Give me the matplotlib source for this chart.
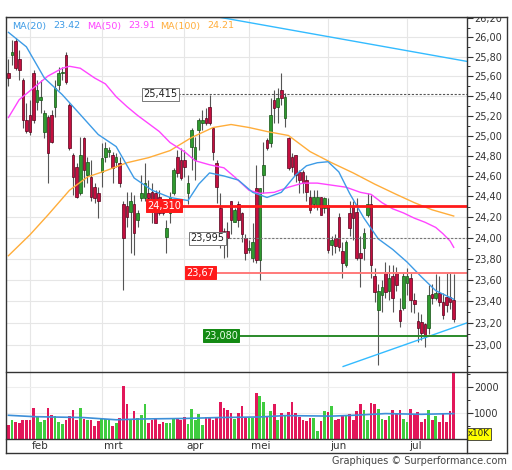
import numpy as np
import pandas as pd
import matplotlib
matplotlib.use("Agg")
import matplotlib.pyplot as plt
from matplotlib.lines import Line2D
from matplotlib.patches import Rectangle
from matplotlib.ticker import FixedLocator, FuncFormatter, NullFormatter

# trading days shown (Euronext, holidays removed)
dates = pd.bdate_range("2023-01-24", "2023-07-20")
dates = dates[~dates.isin(pd.to_datetime(["2023-04-07", "2023-04-10", "2023-05-01"]))]
month_names = {2: "feb", 3: "mrt", 4: "apr", 5: "mei", 6: "jun", 7: "jul"}

open_ = [25.63, 25.82, 25.96, 25.77, 25.56, 25.16, 25.21, 25.63, 25.34, 25.36,
         25.04, 25.19, 25.21, 25.29, 25.51, 25.63, 25.82, 25.31, 24.81, 24.69,
         24.43, 24.98, 24.61, 24.59, 24.49, 24.43, 24.64, 24.79, 24.84, 24.81,
         24.74, 24.73, 24.33, 24.31, 24.25, 24.33, 24.17, 24.38, 24.38, 24.43,
         24.44, 24.43, 24.39, 24.36, 24.01, 24.24, 24.43, 24.79, 24.76, 24.76,
         24.43, 24.89, 24.76, 25.06, 25.13, 25.18, 25.29, 25.08, 24.73, 24.29,
         24.07, 24.07, 24.36, 24.15, 24.33, 24.24, 24.00, 23.88, 23.81, 24.48,
         23.79, 24.61, 24.96, 24.93, 25.36, 25.29, 25.46, 25.18, 24.98, 24.79,
         24.81, 24.64, 24.64, 24.56, 24.39, 24.33, 24.31, 24.39, 24.29, 24.32,
         23.93, 24.00, 24.20, 23.87, 23.74, 24.24, 24.31, 24.25, 23.86, 23.90,
         24.22, 24.33, 23.64, 23.32, 23.46, 23.67, 23.50, 23.64, 23.67, 23.32,
         23.34, 23.57, 23.62, 23.41, 23.22, 23.21, 23.19, 23.15, 23.47, 23.43,
         23.48, 23.39, 23.44, 23.44, 23.41]
high = [25.77, 25.97, 25.99, 25.87, 25.58, 25.33, 25.36, 25.66, 25.56, 25.56,
        25.26, 25.21, 25.26, 25.56, 25.69, 25.69, 25.85, 25.33, 24.83, 24.73,
        24.99, 24.99, 24.79, 24.76, 24.53, 24.49, 24.93, 24.94, 24.89, 24.84,
        24.83, 24.79, 24.36, 24.44, 24.44, 24.41, 24.27, 24.61, 24.73, 24.56,
        24.53, 24.46, 24.46, 24.36, 24.17, 24.44, 24.68, 24.86, 24.88, 24.86,
        24.61, 25.08, 24.99, 25.18, 25.26, 25.28, 25.41, 25.09, 24.76, 24.43,
        24.09, 24.15, 24.36, 24.29, 24.36, 24.25, 24.04, 23.98, 24.14, 24.71,
        24.48, 24.94, 24.98, 25.38, 25.46, 25.48, 25.63, 25.43, 24.99, 24.83,
        24.81, 24.66, 24.66, 24.61, 24.46, 24.46, 24.46, 24.39, 24.39, 24.38,
        24.02, 24.04, 24.24, 23.96, 23.98, 24.36, 24.36, 24.38, 24.02, 24.09,
        24.43, 24.41, 23.71, 23.56, 23.60, 23.77, 23.74, 23.74, 23.72, 23.43,
        23.67, 23.71, 23.67, 23.48, 23.30, 23.28, 23.20, 23.55, 23.56, 23.66,
        23.64, 23.48, 23.67, 23.67, 23.66]
low = [25.50, 25.71, 25.66, 25.56, 25.08, 25.03, 25.01, 25.13, 25.26, 25.23,
       24.98, 24.53, 24.93, 25.19, 25.46, 25.56, 25.52, 24.86, 24.41, 24.38,
       24.41, 24.49, 24.53, 24.36, 24.34, 24.19, 24.49, 24.74, 24.79, 24.53,
       24.69, 24.49, 23.51, 24.10, 23.86, 23.84, 24.10, 24.36, 24.36, 24.33,
       24.14, 24.14, 24.22, 24.22, 23.86, 24.14, 24.41, 24.59, 24.56, 24.59,
       24.33, 24.66, 24.56, 24.86, 25.06, 25.11, 25.11, 24.76, 24.34, 23.90,
       23.81, 23.82, 24.04, 24.15, 24.10, 23.96, 23.79, 23.86, 23.77, 23.76,
       23.60, 24.43, 24.86, 24.89, 25.13, 25.13, 25.31, 25.09, 24.66, 24.64,
       24.54, 24.43, 24.43, 24.36, 24.24, 24.29, 24.27, 24.22, 24.24, 23.86,
       23.84, 23.86, 23.87, 23.62, 23.72, 24.02, 23.98, 23.79, 23.53, 23.79,
       24.20, 23.62, 23.39, 22.81, 23.30, 23.43, 23.41, 23.30, 23.50, 23.16,
       23.32, 23.46, 23.30, 23.29, 23.02, 23.04, 22.98, 23.10, 23.38, 23.41,
       23.36, 23.24, 23.30, 23.33, 23.21]
close = [25.58, 25.85, 25.68, 25.66, 25.16, 25.05, 25.04, 25.16, 25.46, 25.39,
         25.23, 24.83, 24.94, 25.48, 25.63, 25.64, 25.54, 24.88, 24.59, 24.39,
         24.81, 24.66, 24.74, 24.39, 24.38, 24.36, 24.78, 24.88, 24.85, 24.68,
         24.79, 24.53, 24.00, 24.20, 24.36, 24.05, 24.24, 24.43, 24.53, 24.38,
         24.36, 24.14, 24.24, 24.24, 24.09, 24.39, 24.66, 24.63, 24.58, 24.69,
         24.53, 25.06, 24.89, 25.16, 25.16, 25.13, 25.13, 24.84, 24.49, 24.04,
         23.98, 24.00, 24.17, 24.27, 24.17, 24.04, 23.86, 23.90, 23.96, 23.79,
         24.48, 24.71, 24.88, 25.21, 25.28, 25.38, 25.38, 25.39, 24.68, 24.69,
         24.61, 24.56, 24.53, 24.44, 24.27, 24.39, 24.39, 24.22, 24.38, 23.88,
         23.98, 23.92, 23.91, 23.76, 23.96, 24.09, 24.19, 23.81, 23.81, 24.05,
         24.33, 23.74, 23.49, 23.50, 23.53, 23.49, 23.62, 23.43, 23.55, 23.22,
         23.64, 23.64, 23.41, 23.38, 23.15, 23.11, 23.07, 23.46, 23.43, 23.48,
         23.39, 23.27, 23.37, 23.39, 23.24]
volume = [532, 720, 646, 608, 750, 720, 750, 1205, 850, 646,
          750, 1190, 938, 874, 646, 569, 750, 874, 1103, 750,
          1205, 773, 720, 750, 506, 684, 824, 786, 773, 506,
          620, 798, 2053, 1330, 773, 1077, 824, 938, 1330, 620,
          750, 824, 595, 646, 620, 620, 824, 824, 720, 850,
          569, 1140, 720, 976, 532, 850, 824, 750, 850, 1432,
          1205, 1103, 1013, 786, 1013, 1254, 824, 824, 824, 1760,
          1646, 1432, 874, 1077, 1357, 750, 1013, 874, 1038, 1406,
          1013, 850, 750, 697, 824, 824, 317, 697, 1077, 1038,
          1254, 720, 786, 874, 874, 950, 720, 1077, 1330, 1127,
          750, 1394, 1357, 1165, 786, 750, 874, 1127, 1000, 1127,
          786, 659, 1165, 950, 1038, 659, 786, 1127, 720, 874,
          659, 950, 659, 1077, 2560]

# moving averages read at sampled bars
ma20_idx = [0, 5, 10, 15, 20, 25, 30, 35, 40, 45, 50, 53, 56, 60, 64, 68, 72, 76,
            80, 83, 86, 89, 92, 95, 99, 103, 107, 111, 115, 119, 124]
ma20_val = [26.05, 25.90, 25.58, 25.41, 25.21, 25.01, 24.89, 24.58, 24.46, 24.39,
            24.36, 24.52, 24.63, 24.60, 24.56, 24.44, 24.39, 24.44, 24.61, 24.70,
            24.73, 24.74, 24.64, 24.43, 24.19, 23.99, 23.89, 23.77, 23.63, 23.50, 23.42]
ma50_idx = [0, 3, 7, 11, 15, 17, 20, 24, 27, 30, 33, 36, 39, 42, 45, 49, 52, 56, 60,
            63, 67, 70, 74, 78, 82, 86, 90, 94, 98, 101, 104, 107, 110, 113, 116,
            119, 121, 123, 124]
ma50_val = [25.18, 25.36, 25.48, 25.60, 25.68, 25.70, 25.68, 25.58, 25.52, 25.39,
            25.29, 25.20, 25.12, 25.04, 24.93, 24.84, 24.75, 24.71, 24.68, 24.59,
            24.46, 24.43, 24.44, 24.49, 24.53, 24.53, 24.51, 24.49, 24.44, 24.42,
            24.34, 24.28, 24.24, 24.19, 24.15, 24.10, 24.04, 23.97, 23.91]
ma100_idx = [0, 6, 11, 17, 22, 27, 33, 39, 45, 51, 57, 62, 67, 72, 78, 84, 90, 96,
             102, 108, 113, 118, 124]
ma100_val = [23.83, 24.03, 24.22, 24.46, 24.59, 24.65, 24.73, 24.78, 24.85, 24.98,
             25.08, 25.11, 25.08, 25.04, 25.00, 24.84, 24.73, 24.63, 24.52, 24.42,
             24.34, 24.27, 24.21]
vma_idx = [0, 7, 21, 30, 37, 49, 58, 70, 77, 90, 96, 105, 115, 124]
vma_val = [912, 860, 824, 740, 770, 790, 824, 848, 900, 880, 912, 977, 950, 977]

trend_hi_idx, trend_hi_val = [58.4, 127.7], [26.21, 25.75]
trend_lo_idx, trend_lo_val = [93.2, 127.7], [22.80, 23.20]

W, H = 512, 470


def fr(x0, y0, x1, y1):
    return [x0 / W, 1 - y1 / H, (x1 - x0) / W, (y1 - y0) / H]


def fmt(v):
    return ("%.2f" % v).replace(".", ",")


fig = plt.figure(figsize=(W / 100, H / 100), dpi=100)
ax = fig.add_axes(fr(6, 17, 467, 372))
axv = fig.add_axes(fr(6, 372, 467, 439), sharex=ax)

x = np.arange(len(dates))
o, h, l, c = map(np.array, (open_, high, low, close))
up = c >= o
month_start = [i for i in range(1, len(dates)) if dates[i].month != dates[i - 1].month]

# ---- price panel
ax.set_yscale("log")
ax.set_ylim(22.75, 26.21)
ax.set_xlim(-0.68, 127.7)
for a in (ax, axv):
    for s in a.spines.values():
        s.set_visible(False)
    for m in month_start:
        a.axvline(m, color="#e6e6e6", lw=0.8, zorder=0)
    a.tick_params(axis="x", bottom=False, labelbottom=False)

major = np.round(np.arange(23.0, 26.21, 0.2), 2)
minor = np.round(np.arange(22.8, 26.25, 0.1), 2)
ax.yaxis.set_major_locator(FixedLocator(major))
ax.yaxis.set_minor_locator(FixedLocator(minor))
ax.yaxis.set_major_formatter(FuncFormatter(lambda v, p: fmt(v)))
ax.yaxis.set_minor_formatter(NullFormatter())
ax.yaxis.tick_right()
ax.tick_params(axis="y", which="major", length=4, width=0.8, color="#333",
               labelsize=7, labelcolor="#333", pad=1)
ax.tick_params(axis="y", which="minor", length=2, width=0.7, color="#333")
for v in major:
    ax.axhline(v, color="#e6e6e6", lw=0.8, zorder=0)

ax.vlines(x, l, h, color="#555555", lw=0.8, zorder=3)
lo_b = np.minimum(o, c)
ax.bar(x, np.maximum(np.abs(c - o), 0.012), bottom=lo_b, width=0.72,
       color=np.where(up, "#2f9a2f", "#c40f3f"),
       edgecolor=np.where(up, "#145214", "#55001a"), linewidth=0.5, zorder=4)

ax.plot(ma100_idx, ma100_val, color="#ffad3a", lw=1.0, zorder=5)
ax.plot(ma50_idx, ma50_val, color="#ff44ff", lw=1.0, zorder=5)
ax.plot(ma20_idx, ma20_val, color="#3d9be6", lw=1.0, zorder=5)
ax.plot(trend_hi_idx, trend_hi_val, color="#33bbff", lw=1.0, zorder=5)
ax.plot(trend_lo_idx, trend_lo_val, color="#33bbff", lw=1.0, zorder=5)

# horizontal levels with their labels
xr = 127.7
ax.plot([47.2, xr], [25.415, 25.415], color="#555", lw=0.8, ls=(0, (2, 1.5)), zorder=5)
ax.text(37.5, 25.415, "25,415", fontsize=7, color="#222", va="center", ha="left", zorder=7,
        bbox=dict(boxstyle="square,pad=0.15", fc="white", ec="#777", lw=0.7))
ax.plot([38.6, xr], [24.31, 24.31], color="#ff1a1a", lw=2.0, zorder=6)
ax.text(38.6, 24.31, "24,310", fontsize=7, color="white", va="center", ha="left", zorder=7,
        bbox=dict(boxstyle="square,pad=0.15", fc="#ff1a1a", ec="#ff1a1a", lw=0.7))
ax.plot([60.3, xr], [23.995, 23.995], color="#777", lw=0.8, ls=(0, (2, 1.5)), zorder=5)
ax.text(50.6, 23.995, "23,995", fontsize=7, color="#222", va="center", ha="left", zorder=7,
        bbox=dict(boxstyle="square,pad=0.15", fc="white", ec="#777", lw=0.7))
ax.plot([49.5, xr], [23.67, 23.67], color="#ff7a7a", lw=1.4, zorder=5)
ax.text(49.5, 23.67, "23,67", fontsize=7, color="white", va="center", ha="left", zorder=7,
        bbox=dict(boxstyle="square,pad=0.15", fc="#ff1a1a", ec="#ff1a1a", lw=0.7))
ax.plot([54.5, xr], [23.08, 23.08], color="#2a8a2a", lw=1.4, zorder=5)
ax.text(54.5, 23.08, "23,080", fontsize=7, color="#e8ffe8", va="center", ha="left", zorder=7,
        bbox=dict(boxstyle="square,pad=0.15", fc="#138a13", ec="#138a13", lw=0.7))

# legend line at top
legend = [("MA(20)", 12, "#3d9be6"), ("23.42", 53, "#3d9be6"),
          ("MA(50)", 87, "#ff44ff"), ("23.91", 128, "#ff44ff"),
          ("MA(100)", 160, "#ffad3a"), ("24.21", 207, "#ffad3a")]
for txt, px, col in legend:
    ax.text((px - 6) / 461, (372 - 26) / 355, txt, transform=ax.transAxes,
            fontsize=6.8, color=col, va="center", ha="left", zorder=8)

# ---- volume panel
axv.set_ylim(0, 2577)
axv.bar(x, volume, width=0.75, color=np.where(up, "#3fcc3f", "#e2175a"), zorder=2)
axv.plot(vma_idx, vma_val, color="#3d8fd8", lw=1.2, zorder=3)
axv.yaxis.tick_right()
axv.yaxis.set_major_locator(FixedLocator([1000, 2000]))
axv.yaxis.set_minor_locator(FixedLocator([500, 1500, 2500]))
axv.yaxis.set_minor_formatter(NullFormatter())
axv.tick_params(axis="y", which="major", length=4, width=0.8, color="#333",
                labelsize=7, labelcolor="#333", pad=1)
axv.tick_params(axis="y", which="minor", length=2, width=0.7, color="#333")
for v in (1000, 2000):
    axv.axhline(v, color="#eeeeee", lw=0.8, zorder=0)

for m in month_start:
    axv.text(m + 0.55, -(446 - 439) / 67, month_names[dates[m].month],
             transform=axv.get_xaxis_transform(), fontsize=7.5, color="#333",
             ha="left", va="center")

fig.text(468 / W, 1 - 434 / H, "x10K", fontsize=6.3, color="#222", ha="left", va="center",
         bbox=dict(boxstyle="square,pad=0.12", fc="#ffff00", ec="#333", lw=0.6))
fig.text(507 / W, 1 - 461 / H, "Graphiques \u00a9 Surperformance.com", fontsize=7,
         color="#444", ha="right", va="center")

# clip the top tick label and draw frame
fig.add_artist(Rectangle((467 / W, 1 - 17 / H), 45 / W, 17 / H, transform=fig.transFigure,
                         fc="white", ec="none", zorder=20))
frame = [((6, 17), (507, 17)), ((6, 17), (6, 453)), ((507, 17), (507, 453)),
         ((6, 453), (507, 453)), ((467, 17), (467, 453)), ((6, 372), (507, 372)),
         ((6, 439), (467, 439))]
for (x0, y0), (x1, y1) in frame:
    fig.add_artist(Line2D([x0 / W, x1 / W], [1 - y0 / H, 1 - y1 / H], transform=fig.transFigure,
                          color="#333", lw=1.0, zorder=21))

fig.savefig("out.png", dpi=100)
